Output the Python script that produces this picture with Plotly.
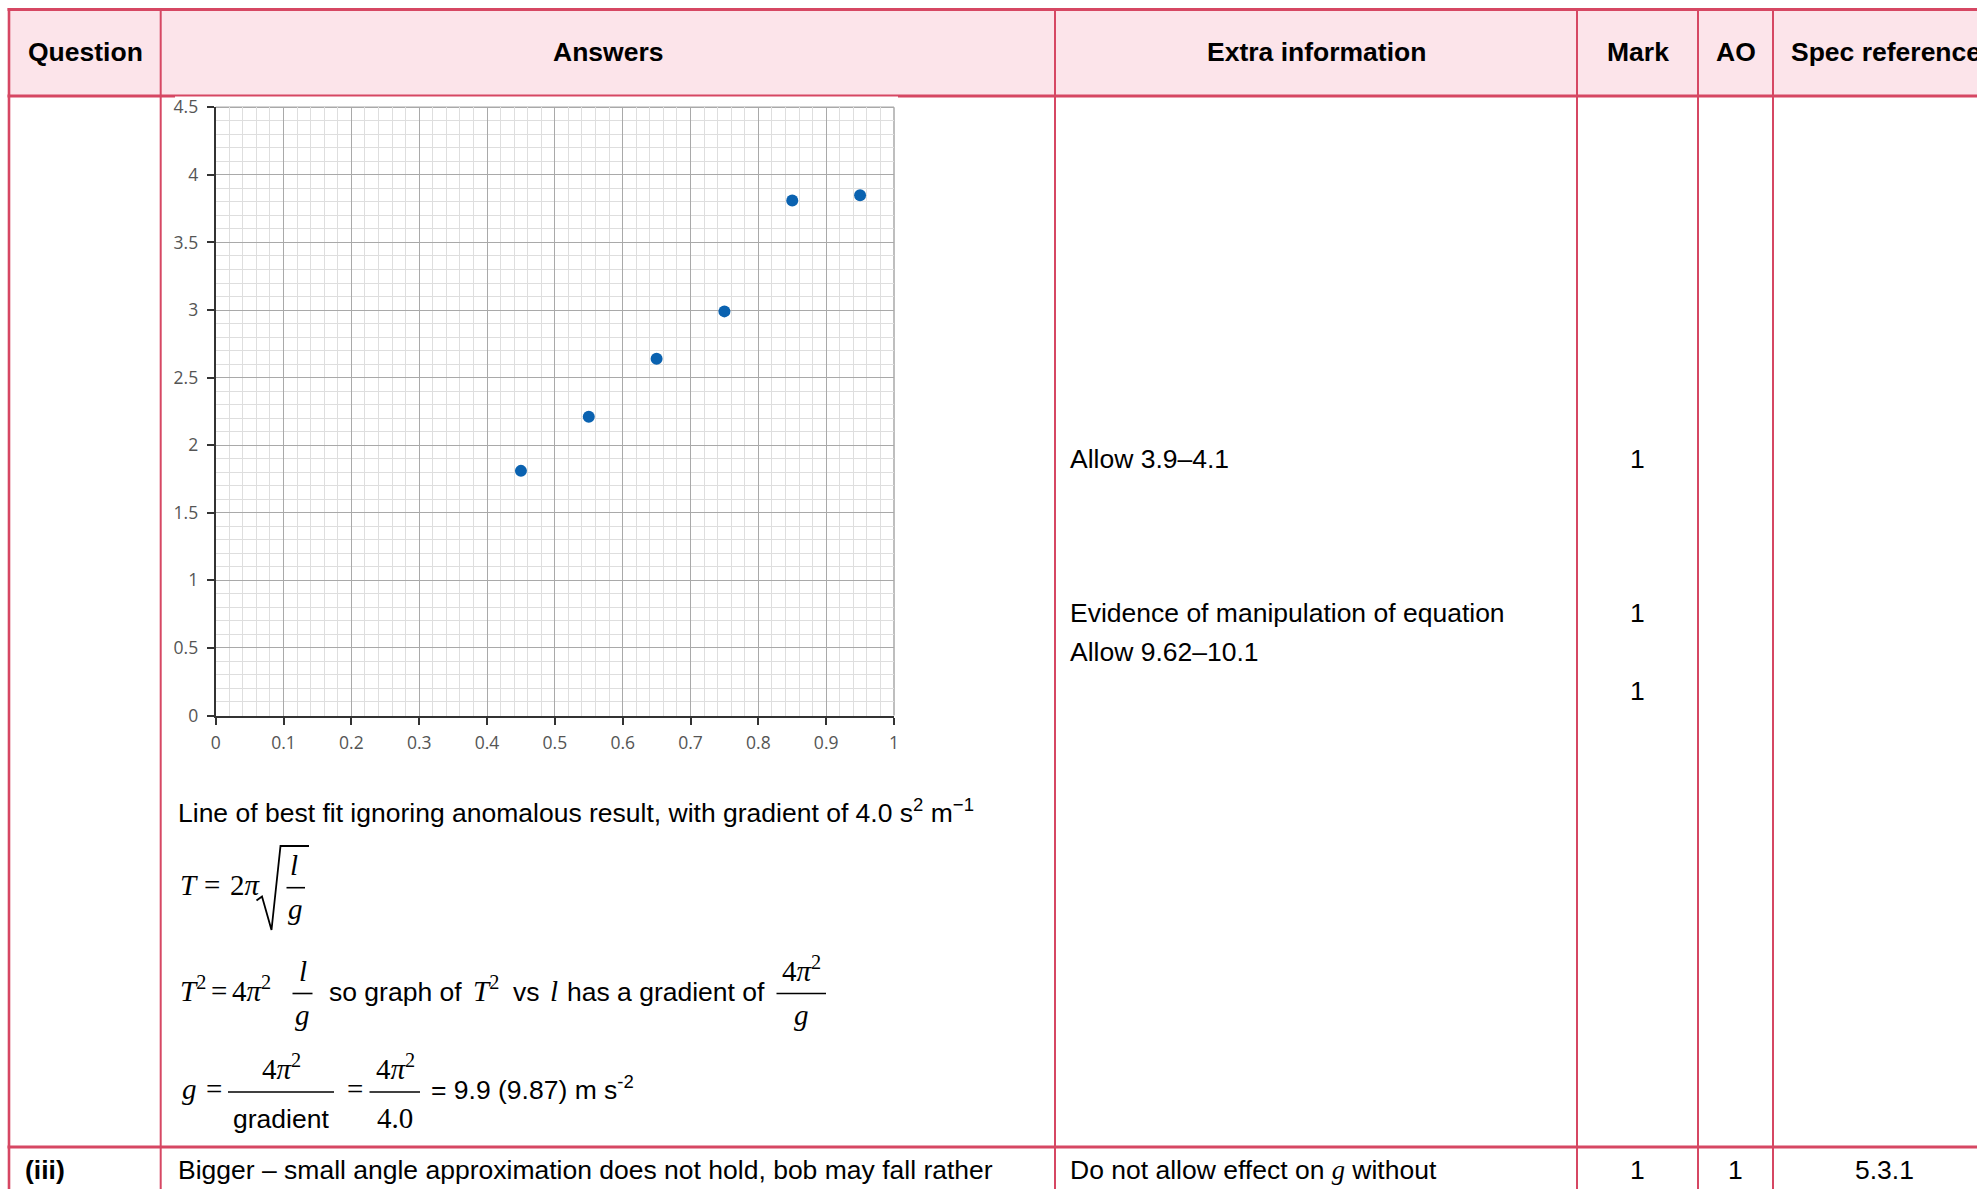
import plotly.graph_objects as go

# ---------------- data ----------------
LENGTH_M = [0.45, 0.55, 0.65, 0.75, 0.85, 0.95]
T_SQUARED_S2 = [1.81, 2.21, 2.64, 2.99, 3.81, 3.85]

X_TICK_VALUES = [0, 0.1, 0.2, 0.3, 0.4, 0.5, 0.6, 0.7, 0.8, 0.9, 1.0]
X_TICK_LABELS = ["0", "0.1", "0.2", "0.3", "0.4", "0.5", "0.6", "0.7", "0.8", "0.9", "1"]
Y_TICK_VALUES = [0, 0.5, 1.0, 1.5, 2.0, 2.5, 3.0, 3.5, 4.0, 4.5]
Y_TICK_LABELS = ["0", "0.5", "1", "1.5", "2", "2.5", "3", "3.5", "4", "4.5"]

HEADERS = ["Question", "Answers", "Extra information", "Mark", "AO", "Spec reference"]
EXTRA_INFO = ["Allow 3.9–4.1", "Evidence of manipulation of equation", "Allow 9.62–10.1"]
MARKS = ["1", "1", "1"]
BEST_FIT_TEXT = "Line of best fit ignoring anomalous result, with gradient of 4.0 s<sup>2</sup> m<sup>−1</sup>"
LAST_ROW = ["(iii)", "Bigger – small angle approximation does not hold, bob may fall rather",
            "Do not allow effect on <span style=\"font-family:Liberation Serif\"><i>g</i></span> without",
            "1", "1", "5.3.1"]

# ---------------- layout helpers ----------------
W, H = 1977, 1189
SANS = "Liberation Sans, Arial, sans-serif"
SERIF = "Liberation Serif, Times New Roman, serif"
RED = "#d64763"
PINK = "#fce4ea"


def X(p):
    return p / W


def Y(p):
    return 1 - p / H


shapes = []
annotations = []


def hline(x0, x1, y, w=3, color=RED):
    shapes.append(dict(type="line", xref="paper", yref="paper", x0=X(x0), x1=X(x1),
                       y0=Y(y), y1=Y(y), line=dict(color=color, width=w), layer="above"))


def vline(x, y0, y1, w=2, color=RED):
    shapes.append(dict(type="line", xref="paper", yref="paper", x0=X(x), x1=X(x),
                       y0=Y(y0), y1=Y(y1), line=dict(color=color, width=w), layer="above"))


def txt(x, base, s, size=26.5, family=SANS, xanchor="left", color="#000", bold=False):
    desc = 0.212 if family == SANS else 0.216
    annotations.append(dict(
        x=X(x), y=Y(base + desc * size + 1), xref="paper", yref="paper",
        xanchor=xanchor, yanchor="bottom", showarrow=False, align="left",
        text=("<b>%s</b>" % s) if bold else s,
        font=dict(family=family, size=size, color=color)))


def bar(x0, x1, y, w=1.6):
    hline(x0, x1, y, w=w, color="#000")


# ---------------- table ----------------
shapes.append(dict(type="rect", xref="paper", yref="paper", x0=X(9), x1=X(W + 5),
                   y0=Y(96), y1=Y(9.5), fillcolor=PINK, line=dict(width=0), layer="below"))
hline(7.5, W + 5, 9.5)
hline(7.5, W + 5, 96)
# chart picture slightly covering header rule
shapes.append(dict(type="rect", xref="paper", yref="paper", x0=X(175), x1=X(898),
                   y0=Y(98.5), y1=Y(96.6), fillcolor="white", line=dict(width=0), layer="above"))
hline(7.5, W + 5, 1147)
vline(9, 8, H + 5, w=2.6)
for cx in [160.7, 1055, 1577, 1698, 1773]:
    vline(cx, 8, H + 5, w=2)

# header texts
hx = [85, 608, 1316, 1637.5, 1735.5]
for label, cx in zip(HEADERS[:5], hx):
    txt(cx, 62, label, xanchor="center", bold=True)
txt(1789, 62, HEADERS[5], bold=True)

# extra information column
txt(1068, 469, EXTRA_INFO[0])
txt(1068, 623, EXTRA_INFO[1])
txt(1068, 662, EXTRA_INFO[2])
for m, b in zip(MARKS, [469, 623, 701]):
    txt(1637.5, b, m, xanchor="center")

# answers text
txt(175.5, 823, BEST_FIT_TEXT)

# T = 2 pi sqrt(l/g)
txt(178, 896, "<i>T</i>", 29, SERIF)
txt(202, 896, "=", 29, SERIF)
txt(228, 896, "2<i>π</i>", 29, SERIF)
shapes.append(dict(type="path", xref="paper", yref="paper",
                   path="M %f,%f L %f,%f L %f,%f L %f,%f L %f,%f" % (
                       X(256.5), Y(900.5), X(262), Y(896.5), X(271.5), Y(930),
                       X(280.5), Y(846), X(309), Y(846)),
                   line=dict(color="#000", width=1.8)))
txt(294, 875.5, "<i>l</i>", 29, SERIF, xanchor="center")
bar(286.5, 305, 887.7)
txt(295, 920, "<i>g</i>", 29, SERIF, xanchor="center")

# T^2 = 4 pi^2 l/g so graph ...
BA = 1002
FA = 993.5
txt(178, BA, "<i>T</i><sup>2</sup>", 29, SERIF)
txt(209, BA, "=", 29, SERIF)
txt(230, BA, "4<i>π</i><sup>2</sup>", 29, SERIF)
bar(292.5, 312.5, FA)
txt(302.5, FA - 12, "<i>l</i>", 29, SERIF, xanchor="center")
txt(302.5, FA + 32, "<i>g</i>", 29, SERIF, xanchor="center")
txt(327, BA, "so graph of")
txt(470.5, BA, "<i>T</i><sup>2</sup>", 29, SERIF)
txt(511, BA, "vs")
txt(547.5, BA, "<i>l</i>", 29, SERIF)
txt(565, BA, "has a gradient of")
bar(776.5, 826, FA)
txt(801, FA - 12, "4<i>π</i><sup>2</sup>", 29, SERIF, xanchor="center")
txt(801, FA + 32, "<i>g</i>", 29, SERIF, xanchor="center")

# g = 4pi^2 / gradient = 4pi^2 / 4.0 = 9.9 ...
BB = 1100
FB = 1092
txt(180, BB, "<i>g</i>", 29, SERIF)
txt(204, BB, "=", 29, SERIF)
bar(228, 334, FB)
txt(281, FB - 12, "4<i>π</i><sup>2</sup>", 29, SERIF, xanchor="center")
txt(281, 1129, "gradient", xanchor="center")
txt(345, BB, "=", 29, SERIF)
bar(369.5, 420, FB)
txt(395, FB - 12, "4<i>π</i><sup>2</sup>", 29, SERIF, xanchor="center")
txt(395, 1129, "4.0", 29, SERIF, xanchor="center")
txt(429, BB, "= 9.9 (9.87) m s<sup>-2</sup>")

# last row
txt(23, 1180, LAST_ROW[0], bold=True)
txt(175.5, 1180, LAST_ROW[1])
txt(1068, 1180, LAST_ROW[2])
txt(1637.5, 1180, LAST_ROW[3], xanchor="center")
txt(1735.5, 1180, LAST_ROW[4], xanchor="center")
txt(1884, 1180, LAST_ROW[5], xanchor="center")

# chart frame top/right (major grid colour)
shapes.append(dict(type="line", xref="x domain", yref="y domain", x0=0, x1=1, y0=1, y1=1,
                   line=dict(color="#a9a9a9", width=1.5), layer="below"))
shapes.append(dict(type="line", xref="x domain", yref="y domain", x0=1, x1=1, y0=0, y1=1,
                   line=dict(color="#a9a9a9", width=1.5), layer="below"))

# ---------------- figure ----------------
fig = go.Figure()
fig.add_trace(go.Scatter(x=LENGTH_M, y=T_SQUARED_S2, mode="markers",
                         marker=dict(color="#0a62b0", size=12), showlegend=False,
                         cliponaxis=False))

TICKFONT = dict(family="Open Sans, Noto Sans, sans-serif", size=17.5, color="#555555")
fig.update_layout(
    width=W, height=H, margin=dict(l=0, r=0, t=0, b=0, pad=0, autoexpand=False),
    paper_bgcolor="white", plot_bgcolor="white",
    shapes=shapes, annotations=annotations, showlegend=False,
    xaxis=dict(domain=[X(215.7), X(894)], range=[0, 1], tickmode="array",
               tickvals=X_TICK_VALUES, ticktext=X_TICK_LABELS, tickfont=TICKFONT,
               ticks="outside", ticklen=7, tickwidth=1.5, tickcolor="#333",
               showline=True, linecolor="#333", linewidth=2, automargin=False,
               showgrid=True, gridcolor="#a9a9a9", gridwidth=1.3, zeroline=False,
               ticklabelstandoff=3,
               minor=dict(tickmode="linear", tick0=0, dtick=0.02, showgrid=True,
                          gridcolor="#dedede", gridwidth=1, ticks="")),
    yaxis=dict(domain=[Y(715.5), Y(107.3)], range=[0, 4.5], tickmode="array",
               tickvals=Y_TICK_VALUES, ticktext=Y_TICK_LABELS, tickfont=TICKFONT,
               ticks="outside", ticklen=7, tickwidth=1.5, tickcolor="#333",
               showline=True, linecolor="#333", linewidth=2, automargin=False,
               showgrid=True, gridcolor="#a9a9a9", gridwidth=1.3, zeroline=False,
               ticklabelstandoff=5,
               minor=dict(tickmode="linear", tick0=0, dtick=0.1, showgrid=True,
                          gridcolor="#dedede", gridwidth=1, ticks="")),
)

fig.write_html("out.html", config={"displayModeBar": False},
               post_script="document.body.style.margin='0';document.body.style.overflow='hidden';")
